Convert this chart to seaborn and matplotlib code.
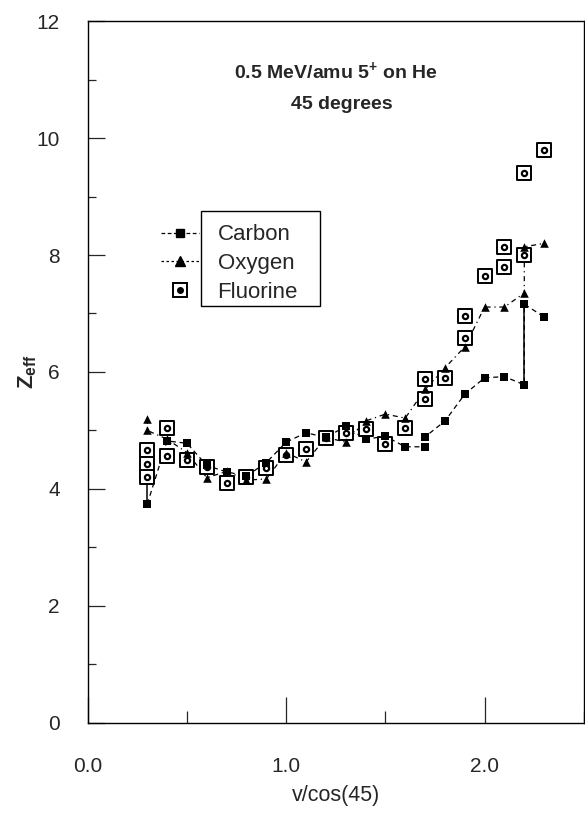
import numpy as np
import pandas as pd
import matplotlib
matplotlib.use("Agg")
import matplotlib.pyplot as plt
import seaborn as sns
from matplotlib.lines import Line2D
from matplotlib.patches import Rectangle
from matplotlib.ticker import MultipleLocator, FormatStrFormatter

# Z_eff vs v/cos(45) (repeat x = repeat runs)
carbon_x = [0.3, 0.4, 0.5, 0.6, 0.7, 0.8, 0.9, 1.0, 1.1, 1.2, 1.3, 1.4, 1.5,
            1.6, 1.7, 1.7, 1.8, 1.9, 2.0, 2.1, 2.2, 2.2, 2.3]
carbon_y = [3.74, 4.82, 4.78, 4.40, 4.29, 4.22, 4.45, 4.80, 4.96, 4.88, 5.07,
            4.85, 4.90, 4.72, 4.72, 4.89, 5.16, 5.62, 5.90, 5.92, 5.78, 7.16, 6.94]

oxygen_x = [0.3, 0.3, 0.4, 0.5, 0.6, 0.7, 0.8, 0.9, 1.0, 1.1, 1.2, 1.3, 1.4,
            1.5, 1.6, 1.7, 1.8, 1.9, 2.0, 2.1, 2.2, 2.2, 2.3]
oxygen_y = [5.20, 5.00, 4.85, 4.62, 4.19, 4.30, 4.15, 4.17, 4.62, 4.46, 4.88,
            4.80, 5.16, 5.28, 5.21, 5.70, 6.07, 6.43, 7.11, 7.11, 7.35, 8.14, 8.20]

fluorine_x = [0.3, 0.3, 0.3, 0.4, 0.4, 0.5, 0.6, 0.7, 0.8, 0.9, 1.0, 1.1, 1.2,
              1.3, 1.4, 1.5, 1.6, 1.7, 1.7, 1.8, 1.9, 1.9, 2.0, 2.1, 2.1, 2.2,
              2.2, 2.3]
fluorine_y = [4.67, 4.43, 4.21, 5.04, 4.56, 4.50, 4.38, 4.10, 4.20, 4.36, 4.58,
              4.68, 4.87, 4.96, 5.02, 4.77, 5.04, 5.54, 5.88, 5.90, 6.58, 6.96,
              7.64, 7.80, 8.14, 8.00, 9.40, 9.80]

series_names = ["Carbon", "Oxygen", "Fluorine"]
title_lines = ["0.5 MeV/amu 5$^{+}$ on He", "45 degrees"]

carbon = pd.DataFrame({"x": carbon_x, "y": carbon_y})
oxygen = pd.DataFrame({"x": oxygen_x, "y": oxygen_y})
fluorine = pd.DataFrame({"x": fluorine_x, "y": fluorine_y})

sns.set_theme(style="ticks")
plt.rcParams["font.family"] = ["Liberation Sans", "DejaVu Sans"]
plt.rcParams["mathtext.default"] = "regular"

fig = plt.figure(figsize=(5.85, 8.13), dpi=100)
ax = fig.add_axes([0.150, 0.111, 0.848, 0.863])

# connecting lines (in measurement order)
sns.lineplot(data=carbon, x="x", y="y", sort=False, estimator=None, ax=ax,
             color="black", lw=0.9, dashes=False, linestyle=(0, (4, 3)))
sns.lineplot(data=oxygen, x="x", y="y", sort=False, estimator=None, ax=ax,
             color="black", lw=0.9, dashes=False, linestyle=(0, (4, 3, 1, 3)))

# solid range bars: carbon at its doubled point, carbon->fluorine at first x
dup = carbon[carbon.duplicated("x", keep=False)]
for xv, grp in dup.groupby("x"):
    if grp["y"].max() - grp["y"].min() > 1:
        ax.vlines(xv, grp["y"].min(), grp["y"].max(), color="black", lw=1.1)
x0 = carbon["x"].min()
ax.vlines(x0, carbon.loc[carbon["x"] == x0, "y"].min(),
          fluorine.loc[fluorine["x"] == x0, "y"].max(), color="black", lw=1.1)

# markers
sns.scatterplot(data=fluorine, x="x", y="y", ax=ax, marker="s", s=95,
                facecolor="white", edgecolor="black", linewidth=1.4, zorder=3)
sns.scatterplot(data=fluorine, x="x", y="y", ax=ax, marker="o", s=14,
                facecolor="white", edgecolor="black", linewidth=1.6, zorder=4)
sns.scatterplot(data=carbon, x="x", y="y", ax=ax, marker="s", s=34,
                color="black", edgecolor="black", linewidth=0, zorder=5)
sns.scatterplot(data=oxygen, x="x", y="y", ax=ax, marker="^", s=38,
                color="black", edgecolor="black", linewidth=0, zorder=5)

ax.set_xlim(0, 2.5)
ax.set_ylim(0, 12)
ax.xaxis.set_major_locator(MultipleLocator(1.0))
ax.xaxis.set_minor_locator(MultipleLocator(0.5))
ax.yaxis.set_major_locator(MultipleLocator(2))
ax.yaxis.set_minor_locator(MultipleLocator(1))
ax.xaxis.set_major_formatter(FormatStrFormatter("%.1f"))
ax.tick_params(axis="x", which="major", direction="in", length=19, width=0.9,
               labelsize=15, pad=25)
ax.tick_params(axis="x", which="minor", direction="in", length=9, width=0.9)
ax.tick_params(axis="y", which="major", direction="in", length=12, width=0.9,
               labelsize=15, pad=20)
ax.tick_params(axis="y", which="minor", direction="in", length=6, width=0.9)
for sp in ax.spines.values():
    sp.set_linewidth(1.0)
    sp.set_color("black")

ax.set_xlabel("v/cos(45)", fontsize=15.5, labelpad=6)
ax.set_ylabel("Z$_{eff}$", fontsize=16, fontweight="bold", labelpad=-2)

ax.text(1.25, 11.15, title_lines[0], ha="center", va="center", fontsize=14,
        fontweight="bold")
ax.text(1.28, 10.58, title_lines[1], ha="center", va="center", fontsize=14,
        fontweight="bold")

# legend: handles sit outside a box drawn round the labels
handles = [
    Line2D([], [], color="black", lw=0.9, linestyle=(0, (3, 2)), marker="s",
           markersize=6),
    Line2D([], [], color="black", lw=0.9, linestyle=(0, (2, 2)), marker="^",
           markersize=6.5),
    (Line2D([], [], color="none", marker="s", markersize=9.5,
            markerfacecolor="white", markeredgecolor="black", markeredgewidth=1.4),
     Line2D([], [], color="none", marker="o", markersize=4,
            markerfacecolor="black", markeredgecolor="black")),
]
leg = ax.legend(handles, series_names, loc="upper left",
                bbox_to_anchor=(0.125, 0.726), frameon=False, fontsize=16,
                handlelength=1.7, handletextpad=0.85, labelspacing=0.35,
                borderpad=0)
fig.canvas.draw()
renderer = fig.canvas.get_renderer()
boxes = [t.get_window_extent(renderer) for t in leg.get_texts()]
bx0 = min(b.x0 for b in boxes) - 17
bx1 = max(b.x1 for b in boxes) + 22
by0 = min(b.y0 for b in boxes) - 3
by1 = max(b.y1 for b in boxes) + 13
inv = fig.transFigure.inverted()
(fx0, fy0), (fx1, fy1) = inv.transform([(bx0, by0), (bx1, by1)])
fig.add_artist(Rectangle((fx0, fy0), fx1 - fx0, fy1 - fy0, fill=False,
                         edgecolor="black", lw=1.0, transform=fig.transFigure))

fig.savefig("out.png", dpi=100)
